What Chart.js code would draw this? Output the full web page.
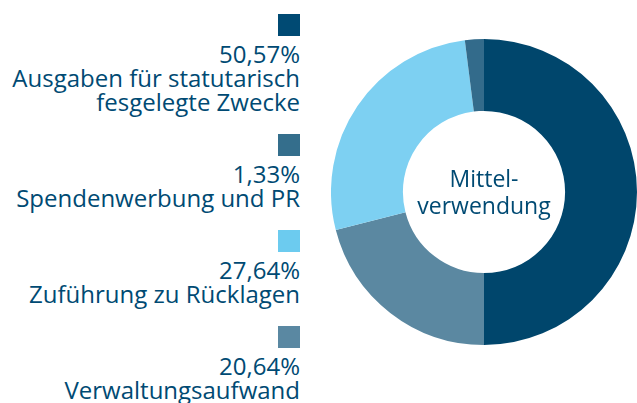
<!DOCTYPE html>
<html>
<head>
<meta charset="utf-8">
<script src="https://cdn.jsdelivr.net/npm/chart.js@4"></script>
<style>
  html, body { margin: 0; padding: 0; background: #fff; }
  body { width: 637px; height: 403px; position: relative; overflow: hidden; font-family: "Open Sans", sans-serif; }
  #legend { position: absolute; left: 0; top: 14px; width: 300px; text-align: right; color: #004a73; }
  .item { margin-bottom: 20px; }
  .box { display: block; margin-left: auto; width: 22px; height: 22px; margin-bottom: 6px; }
  .txt { font-size: 24px; line-height: 24px; white-space: nowrap; }
  #wrap { position: absolute; left: 331px; top: 39px; width: 306px; height: 306px; }
</style>
</head>
<body>
<div id="legend"></div>
<div id="wrap"><canvas id="donut"></canvas></div>
<script>
// legend order
var categories = ["Ausgaben für statutarisch\nfesgelegte Zwecke", "Spendenwerbung und PR", "Zuführung zu Rücklagen", "Verwaltungsaufwand"];
var shares = [50.57, 1.33, 27.64, 20.64];
// segment sizes as drawn in the ring (rounded)
var ringValues = [50, 2, 27, 21];
var colors = ["#00466c", "#336b8b", "#7dd0f2", "#5b88a1"];
var boxColors = ["#004a73", "#346e8c", "#6ccbef", "#5a88a2"];
// clockwise order in the ring
var drawOrder = [0, 3, 2, 1];
var centerLines = ["Mittel-", "verwendung"];

function fmt(v) { return v.toFixed(2).replace(".", ",") + "%"; }

var legend = document.getElementById("legend");
categories.forEach(function(c, i) {
    var item = document.createElement("div");
    item.className = "item";
    var box = document.createElement("span");
    box.className = "box";
    box.style.background = boxColors[i];
    item.appendChild(box);
    var lines = [fmt(shares[i])].concat(c.split("\n"));
    lines.forEach(function(l) {
        var d = document.createElement("div");
        d.className = "txt";
        d.textContent = l;
        item.appendChild(d);
    });
    legend.appendChild(item);
});

var centerText = {
    id: "centerText",
    afterDraw: function(chart) {
        var ctx = chart.ctx;
        var meta = chart.getDatasetMeta(0).data[0];
        ctx.save();
        ctx.fillStyle = "#004a73";
        ctx.font = "23px 'Open Sans'";
        ctx.textAlign = "center";
        ctx.textBaseline = "alphabetic";
        ctx.fillText(centerLines[0], meta.x, meta.y - 5);
        ctx.fillText(centerLines[1], meta.x, meta.y + 22);
        ctx.restore();
    }
};

new Chart(document.getElementById("donut"), {
    type: 'doughnut',
    data: {
        labels: drawOrder.map(function(i) { return categories[i].replace("\n", " "); }),
        datasets: [{
            data: drawOrder.map(function(i) { return ringValues[i]; }),
            backgroundColor: drawOrder.map(function(i) { return colors[i]; }),
            borderWidth: 0
        }]
    },
    options: {
        responsive: true,
        maintainAspectRatio: false,
        animation: false,
        cutout: '53%',
        layout: { padding: 0 },
        plugins: {
            legend: { display: false },
            tooltip: { enabled: false }
        }
    },
    plugins: [centerText]
});
</script>
</body>
</html>
